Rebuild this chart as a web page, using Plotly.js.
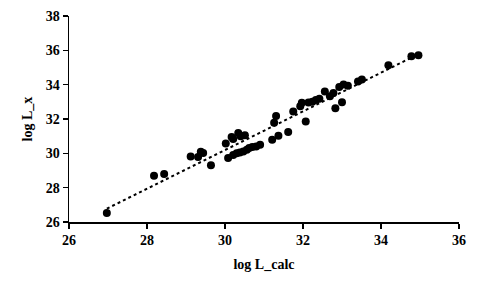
<!DOCTYPE html>
<html><head><meta charset="utf-8">
<script src="https://cdn.plot.ly/plotly-3.0.1.min.js"></script>
<style>html,body{margin:0;padding:0;background:#fff}</style>
</head><body><div id="chart" style="width:481px;height:289px"></div>
<script>
const logLcalc = [26.97, 28.18, 28.44, 29.12, 29.31, 29.38, 29.44, 29.64, 30.02,
  30.17, 30.21, 30.34, 30.40, 30.51,
  30.08, 30.21, 30.30, 30.38, 30.47, 30.56, 30.62, 30.70, 30.80, 30.90,
  31.21, 31.37, 31.62, 31.26, 31.31, 31.75, 32.07, 31.93, 31.97, 32.14, 32.24, 32.33, 32.42,
  32.56, 32.69, 32.78, 32.83, 33.00, 32.93, 33.04, 33.15, 33.41, 33.51, 34.19, 34.78, 34.96];
const logLx = [26.53, 28.70, 28.80, 29.82, 29.78, 30.09, 30.02, 29.30, 30.58,
  30.95, 30.83, 31.18, 31.00, 31.06,
  29.73, 29.90, 30.00, 30.05, 30.11, 30.21, 30.31, 30.37, 30.40, 30.50,
  30.79, 31.02, 31.25, 31.78, 32.17, 32.44, 31.86, 32.75, 32.95, 32.96, 33.00, 33.10, 33.18,
  33.60, 33.33, 33.52, 32.63, 32.98, 33.86, 34.01, 33.94, 34.18, 34.30, 35.13, 35.65, 35.71];
const xTicks = [26, 28, 30, 32, 34, 36];
const yTicks = [26, 28, 30, 32, 34, 36, 38];

// linear least-squares trendline
const n = logLcalc.length;
const mx = logLcalc.reduce((a,b)=>a+b,0)/n;
const my = logLx.reduce((a,b)=>a+b,0)/n;
let sxy=0, sxx=0;
for (let i=0;i<n;i++){ sxy+=(logLcalc[i]-mx)*(logLx[i]-my); sxx+=(logLcalc[i]-mx)**2; }
const slope = sxy/sxx, icpt = my - slope*mx;
const xmin = Math.min(...logLcalc), xmax = Math.max(...logLcalc);
const trendX = [xmin, xmax];
const trendY = trendX.map(v => icpt + slope*v);

const font = {family: '"Liberation Serif", "Times New Roman", serif', color: '#000'};
Plotly.newPlot('chart', [
  {x: trendX, y: trendY, mode: 'lines', line: {color: '#000', width: 2, dash: 'dot'}, hoverinfo: 'skip'},
  {x: logLcalc, y: logLx, mode: 'markers', marker: {color: '#000', size: 8}}
], {
  width: 481, height: 289,
  margin: {l: 69, r: 22, t: 16, b: 67},
  showlegend: false,
  paper_bgcolor: '#fff', plot_bgcolor: '#fff',
  font: font,
  xaxis: {range: [26, 36], tickvals: xTicks, ticktext: xTicks.map(String),
    showgrid: false, zeroline: false, showline: true, linecolor: '#000', linewidth: 1.5,
    ticks: 'outside', ticklen: 5, tickwidth: 1.5, tickcolor: '#000',
    tickfont: {family: font.family, size: 14, color: '#000', weight: 'bold'},
    title: {text: '<b>log L_calc</b>', font: {family: font.family, size: 14, color: '#000'}, standoff: 12}},
  yaxis: {range: [26, 38], tickvals: yTicks, ticktext: yTicks.map(String),
    showgrid: false, zeroline: false, showline: true, linecolor: '#000', linewidth: 1.5,
    ticks: 'outside', ticklen: 5, tickwidth: 1.5, tickcolor: '#000',
    tickfont: {family: font.family, size: 14, color: '#000', weight: 'bold'},
    title: {text: '<b>log L_x</b>', font: {family: font.family, size: 14, color: '#000'}, standoff: 10}}
}, {displayModeBar: false, staticPlot: true});
</script></body></html>
